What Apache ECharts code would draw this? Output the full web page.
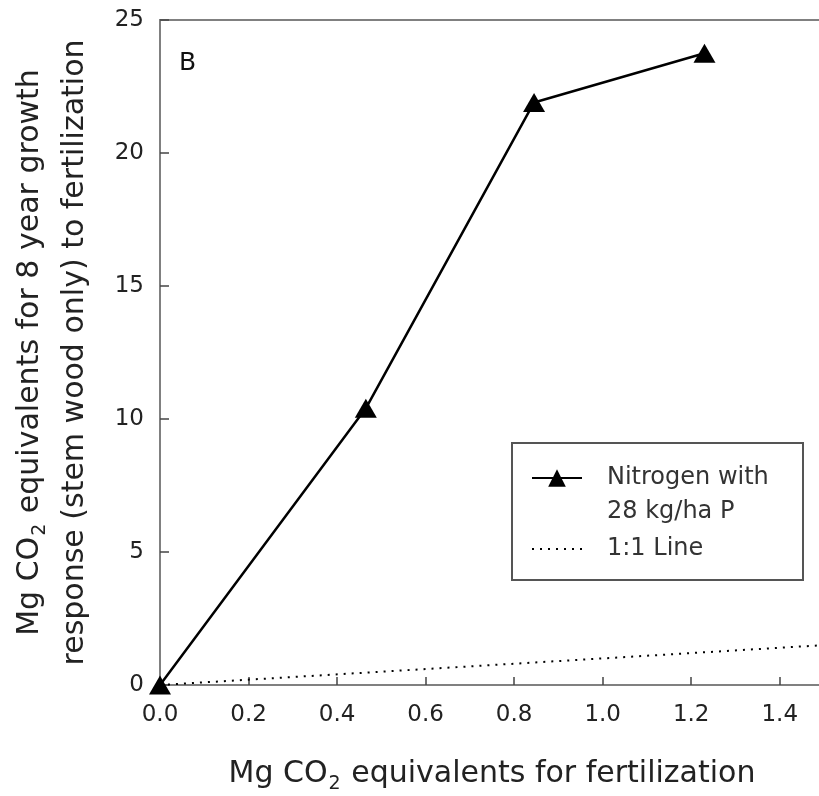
<!DOCTYPE html>
<html>
<head>
<meta charset="utf-8">
<script src="https://cdn.jsdelivr.net/npm/echarts@6/dist/echarts.min.js"></script>
<style>
  html, body { margin: 0; padding: 0; background: #fff; }
  #chart { width: 819px; height: 796px; }
</style>
</head>
<body>
<div id="chart"></div>
<script>
var fertCO2 = [0, 0.465, 0.845, 1.23];
var growthCO2 = [0, 10.4, 21.9, 23.75];
var oneToOneX = [0, 1.5];
var oneToOneY = [0, 1.5];
var seriesNames = ["Nitrogen with\n28 kg/ha P", "1:1 Line"];

var font = "DejaVu Sans";
var chart = echarts.init(document.getElementById("chart"));

var option = {
  animation: false,
  title: {
    text: "B",
    left: 179,
    top: 51,
    padding: 0,
    textStyle: { fontFamily: font, fontSize: 25, fontWeight: "normal", color: "#111" }
  },
  grid: {
    left: 160,
    top: 20,
    right: -5,
    bottom: 111,
    outerBoundsMode: "none",
    show: true,
    borderColor: "#808080",
    borderWidth: 2
  },
  legend: {
    orient: "vertical",
    left: 531,
    top: 427,
    padding: 0,
    itemGap: 3,
    itemWidth: 50,
    itemHeight: 22,
    // blank first line so the icon sits beside "Nitrogen with"
    formatter: function (name) {
      return name === seriesNames[0] ? "\n" + name : name;
    },
    textStyle: { fontFamily: font, fontSize: 24, color: "#333", lineHeight: 34, padding: [0, 0, 0, 20] },
    data: [
      { name: seriesNames[0] },
      { name: seriesNames[1], itemStyle: { opacity: 0 } }
    ]
  },
  graphic: [{
    type: "rect",
    shape: { x: 512, y: 443, width: 291, height: 137 },
    style: { fill: null, stroke: "#555", lineWidth: 2 },
    z: 10
  }],
  xAxis: {
    type: "value",
    min: 0,
    max: 1.5,
    interval: 0.2,
    name: "{a|Mg CO}{s|2}{a| equivalents for fertilization}",
    nameLocation: "middle",
    nameGap: 70,
    nameTextStyle: {
      rich: {
        a: { fontFamily: font, fontSize: 30, color: "#222" },
        s: { fontFamily: font, fontSize: 19, color: "#222", padding: [20, 1, 0, 1] }
      }
    },
    axisLine: { lineStyle: { color: "#808080", width: 2 } },
    axisTick: { inside: true, length: 8, lineStyle: { color: "#444", width: 1.5 } },
    axisLabel: {
      showMaxLabel: false,
      margin: 19,
      fontFamily: font,
      fontSize: 23,
      color: "#222",
      formatter: function (v) { return v.toFixed(1); }
    },
    splitLine: { show: false }
  },
  yAxis: {
    type: "value",
    min: 0,
    max: 25,
    interval: 5,
    name: "{a|Mg CO}{s|2}{a| equivalents for 8 year growth}\n{a|response (stem wood only) to fertilization}",
    nameLocation: "middle",
    nameGap: 62,
    nameTextStyle: {
      lineHeight: 45,
      rich: {
        a: { fontFamily: font, fontSize: 30, color: "#222", lineHeight: 45 },
        s: { fontFamily: font, fontSize: 19, color: "#222", padding: [20, 1, 0, 1] }
      }
    },
    axisLine: { show: true, lineStyle: { color: "#808080", width: 2 } },
    axisTick: { show: true, inside: true, length: 9, lineStyle: { color: "#444", width: 1.5 } },
    axisLabel: { margin: 16, fontFamily: font, fontSize: 23, color: "#222" },
    splitLine: { show: false }
  },
  series: [
    {
      name: seriesNames[0],
      type: "line",
      data: fertCO2.map(function (x, i) { return [x, growthCO2[i]]; }),
      symbol: "triangle",
      symbolSize: [22, 19],
      clip: false,
      itemStyle: { color: "#000" },
      lineStyle: { color: "#000", width: 2.5 },
      z: 5
    },
    {
      name: seriesNames[1],
      type: "line",
      data: oneToOneX.map(function (x, i) { return [x, oneToOneY[i]]; }),
      symbol: "none",
      itemStyle: { color: "#000" },
      lineStyle: { color: "#000", width: 2, type: [2, 6] },
      z: 4
    }
  ]
};

chart.setOption(option);
</script>
</body>
</html>
